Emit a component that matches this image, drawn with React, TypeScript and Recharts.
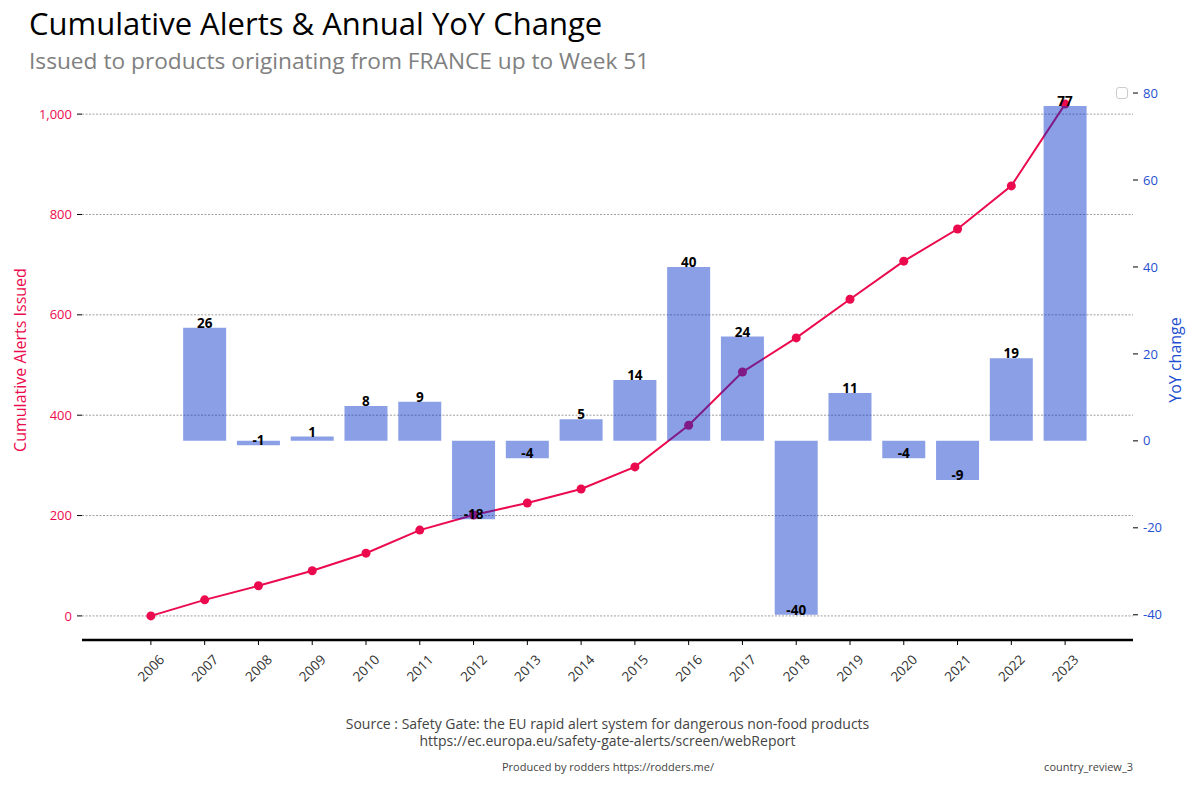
import { ComposedChart, Bar, Line, XAxis, YAxis, ReferenceLine, LabelList } from 'recharts'

const years = ['2006', '2007', '2008', '2009', '2010', '2011', '2012', '2013', '2014',
  '2015', '2016', '2017', '2018', '2019', '2020', '2021', '2022', '2023']
const cumulative = [0, 32, 60, 90, 125, 171, 201, 225, 253, 297, 380, 486, 554, 631, 707, 771, 857, 1020]
const yoy = [0, 26, -1, 1, 8, 9, -18, -4, 5, 14, 40, 24, -40, 11, -4, -9, 19, 77]
const leftTicks = [0, 200, 400, 600, 800, 1000]
const rightTicks = [-40, -20, 0, 20, 40, 60, 80]

const RED = '#ec0a4e'
const BLUE = '#1f4fd0'
const FONT = '"Open Sans", sans-serif'

const data = years.map((year, i) => ({ year, cumulative: cumulative[i], yoy: yoy[i] }))

const MARGIN = { top: 80, right: 0, bottom: 100, left: 0 }
const LEFT_DOMAIN = [-48, 1068]
const RIGHT_DOMAIN = [-45.8, 83]

const YearTick = ({ x, y, payload }: any) => (
  <text
    x={x}
    y={y + 21}
    transform={`rotate(-45 ${x} ${y + 21})`}
    textAnchor="middle"
    dominantBaseline="central"
    fontSize={13.5}
    fill="#333"
    fontFamily={FONT}
  >
    {payload.value}
  </text>
)

const BarValue = ({ x, y, width, height, value }: any) => {
  const posY = value >= 0 ? Math.min(y, y + height) : Math.max(y, y + height)
  return (
    <text
      x={x + width / 2}
      y={posY}
      textAnchor="middle"
      fontSize={13.5}
      fontWeight="bold"
      fill="#000"
      fontFamily={FONT}
    >
      {value}
    </text>
  )
}

// line + grid go in a chart underneath, so the translucent bars sit on top of them
function LineLayer() {
  return (
    <ComposedChart width={1200} height={800} data={data} margin={MARGIN}>
      <XAxis dataKey="year" scale="band" height={60} padding={{ left: 42, right: 41 }} tick={false} axisLine={false} tickLine={false} />
      <YAxis yAxisId="left" width={82} domain={LEFT_DOMAIN} allowDataOverflow ticks={leftTicks} tick={false} axisLine={false} tickLine={false} />
      <YAxis yAxisId="right" orientation="right" width={67} domain={RIGHT_DOMAIN} allowDataOverflow tick={false} axisLine={false} tickLine={false} />
      {leftTicks.map((v) => (
        <ReferenceLine key={v} yAxisId="left" y={v} stroke="#888" strokeWidth={0.8} strokeDasharray="2 1.5" />
      ))}
      <Line
        yAxisId="left"
        dataKey="cumulative"
        stroke={RED}
        strokeWidth={2}
        dot={{ r: 4.5, fill: RED, stroke: 'none' }}
        activeDot={false}
        isAnimationActive={false}
      />
    </ComposedChart>
  )
}

function BarLayer() {
  return (
    <ComposedChart width={1200} height={800} data={data} margin={MARGIN}>
      <XAxis
        dataKey="year"
        height={60}
        padding={{ left: 42, right: 41 }}
        axisLine={{ stroke: '#000', strokeWidth: 2.5 }}
        tickLine={{ stroke: '#000' }}
        tickSize={5}
        interval={0}
        tick={<YearTick />}
      />
      <YAxis
        yAxisId="left"
        width={82}
        domain={LEFT_DOMAIN}
        allowDataOverflow
        ticks={leftTicks}
        tickFormatter={(v: number) => v.toLocaleString('en-US')}
        axisLine={false}
        tickLine={{ stroke: '#000' }}
        tickSize={5}
        tickMargin={5}
        tick={{ fill: RED, fontSize: 13, fontFamily: FONT }}
      />
      <YAxis
        yAxisId="right"
        orientation="right"
        width={67}
        domain={RIGHT_DOMAIN}
        allowDataOverflow
        ticks={rightTicks}
        axisLine={false}
        tickLine={{ stroke: '#000' }}
        tickSize={5}
        tickMargin={5}
        tick={{ fill: BLUE, fontSize: 13, fontFamily: FONT }}
      />
      <Bar
        yAxisId="right"
        dataKey="yoy"
        fill="#002dc8"
        fillOpacity={0.46}
        barCategoryGap="10%"
        isAnimationActive={false}
      >
        <LabelList dataKey="yoy" content={<BarValue />} />
      </Bar>
    </ComposedChart>
  )
}

export default function App() {
  return (
    <div style={{ position: 'absolute', left: 0, top: 0, width: 1200, height: 800, background: '#fff', fontFamily: FONT }}>
      <div style={{ position: 'absolute', left: 29, top: 2, fontSize: 31, color: '#000', whiteSpace: 'nowrap' }}>
        Cumulative Alerts &amp; Annual YoY Change
      </div>
      <div style={{ position: 'absolute', left: 29, top: 45, fontSize: 22.7, color: '#808080', whiteSpace: 'nowrap' }}>
        Issued to products originating from FRANCE up to Week 51
      </div>

      <div style={{ position: 'absolute', left: 0, top: 0 }}>
        <LineLayer />
      </div>
      <div style={{ position: 'absolute', left: 0, top: 0 }}>
        <BarLayer />
      </div>

      <div style={{ position: 'absolute', left: 1116, top: 87, width: 10, height: 10, border: '1px solid #ccc', borderRadius: 3 }} />

      <div style={{ position: 'absolute', left: 20, top: 360, transform: 'translate(-50%, -50%) rotate(-90deg)', fontSize: 16, color: RED, whiteSpace: 'nowrap' }}>
        Cumulative Alerts Issued
      </div>
      <div style={{ position: 'absolute', left: 1175, top: 360, transform: 'translate(-50%, -50%) rotate(-90deg)', fontSize: 16, color: BLUE, whiteSpace: 'nowrap' }}>
        YoY change
      </div>

      <div style={{ position: 'absolute', left: 0, width: 1215, top: 715, textAlign: 'center', fontSize: 14, lineHeight: '17px', color: '#444' }}>
        Source : Safety Gate: the EU rapid alert system for dangerous non-food products
        <br />
        https://ec.europa.eu/safety-gate-alerts/screen/webReport
      </div>
      <div style={{ position: 'absolute', left: 0, width: 1216, top: 759, textAlign: 'center', fontSize: 11, color: '#444' }}>
        Produced by rodders https://rodders.me/
      </div>
      <div style={{ position: 'absolute', right: 67, top: 759, fontSize: 11, color: '#444' }}>
        country_review_3
      </div>
    </div>
  )
}
